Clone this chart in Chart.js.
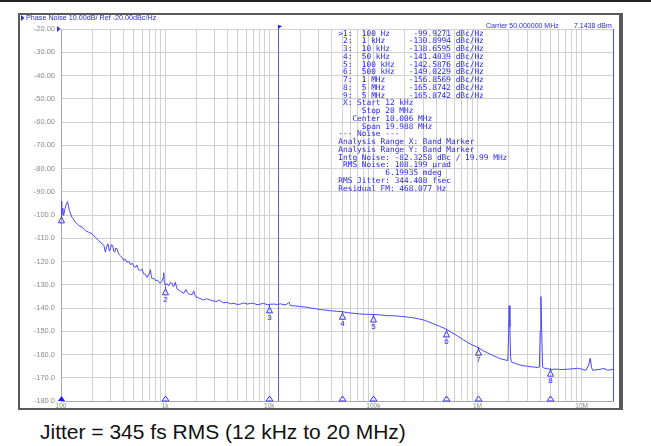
<!DOCTYPE html>
<html>
<head>
<meta charset="utf-8">
<script src="https://cdn.jsdelivr.net/npm/chart.js@4"></script>
<style>
  body { margin: 0; background: #fff; width: 651px; height: 446px; overflow: hidden; position: relative; font-family: "Liberation Sans", Arial, sans-serif; }
  #topline { position: absolute; left: 0; top: 0; width: 651px; height: 2px; background: #222; }
  #frame { position: absolute; left: 18px; top: 13px; width: 605px; height: 397px; border: 2px solid #5a5a5a; border-right-width: 4px; box-sizing: border-box; }
  #wrap { position: absolute; left: 0; top: 0; width: 651px; height: 412px; }
  #caption { position: absolute; left: 40px; top: 420px; font-size: 21px; color: #111; white-space: nowrap; line-height: 23px; }
</style>
</head>
<body>
<div id="topline"></div>
<div id="frame"></div>
<div id="wrap"><canvas id="myChart"></canvas></div>
<div id="caption">Jitter = 345 fs RMS (12 kHz to 20 MHz)</div>
<script>
// trace (offset frequency in Hz, dBc/Hz)
const freqHz = [
  100, 101, 102.2, 104, 106, 109, 112.5, 115.7, 120.2, 127.6, 137.3, 147.6, 159.2, 171.3, 184.2, 198.7,
  213.7, 229.9, 247.8, 257.9, 266.7, 274.5, 283.1, 291.3, 297.8, 304.5, 313.4, 320.4, 327.6, 336.5, 345.5,
  357.9, 371.6, 388.4, 399.8, 415.2, 431.1, 448.6, 463.7, 484.8, 501.2, 518, 535.6, 553.7, 578.8, 598.4,
  622.7, 646.6, 671.4, 691, 706.3, 722.3, 735, 749.9, 777, 806.8, 843.4, 871.8, 901.1, 931.5, 958.7, 969.4,
  980.2, 1006.7, 1040.6, 1082.9, 1124.5, 1167.6, 1196.5, 1228.6, 1250.6, 1304.4, 1403.2, 1509.5, 1584.9,
  1627.4, 1686.2, 1818.1, 1883.6, 1955.7, 2103.7, 2350.5, 2495.4, 2726.9, 2913.9, 3162.3, 3291, 3402, 3636,
  3947, 4246, 4566, 4958, 5297, 5661, 6143, 6610, 7110, 7632, 8249, 8812, 9568, 10292, 11071, 11940, 12847,
  13818, 14668, 15434, 16025, 17900, 19998, 22336, 24955, 27875, 31142, 34777, 38858, 44373, 50343, 56600,
  65100, 72240, 81218, 90120, 101345, 117550, 136300, 156700, 183000, 213700, 245700, 272700, 306600,
  340200, 382500, 434100, 495800, 566100, 642300, 714200, 801300, 901200, 1013400, 1124600, 1248000,
  1388000, 1557000, 1712000, 1871000, 1956000, 1991000, 2013000, 2045000, 2077000, 2114000, 2234000,
  2424000, 2609000, 2806000, 3012000, 3254000, 3518000, 3776000, 3928000, 3998000, 4061000, 4133000,
  4217000, 4369000, 4691000, 5068000, 5417000, 5878000, 6466000, 7335000, 8067000, 9152000, 10067000,
  11000000, 11700000, 12100000, 12430000, 12760000, 13730000, 15330000, 16390000, 17780000, 19120000, 20000000
];
const noiseDbc = [
  -96.5, -94.0, -99.9, -97.0, -100.2, -97.5, -95.2, -94.3, -98.0, -101.0, -103.0, -104.5, -105.2, -106.7, -107.4, -108.1,
  -109.6, -111.0, -112.4, -113.0, -116.0, -113.5, -112.4, -115.5, -114.6, -112.8, -113.1, -115.5, -116.0, -114.2, -114.6,
  -116.8, -117.5, -118.5, -119.6, -119.0, -120.3, -120.0, -121.3, -120.8, -122.2, -122.5, -121.5, -123.5, -123.9, -123.2,
  -125.3, -125.5, -126.8, -125.8, -125.0, -123.5, -126.0, -127.5, -127.2, -128.2, -128.0, -129.0, -129.4, -128.5, -127.0, -124.8,
  -128.5, -130.4, -129.5, -130.4, -129.0, -129.4, -130.8, -130.4, -128.9, -131.8, -132.8, -133.7, -132.0,
  -133.3, -134.0, -134.3, -132.6, -135.1, -135.7, -136.6, -136.0, -136.6, -137.0, -137.2, -136.5, -136.9, -137.8,
  -137.6, -138.2, -138.0, -138.5, -138.3, -137.8, -138.3, -138.0, -138.0, -138.6, -138.3, -138.0, -138.6, -138.4, -138.3, -138.5, -138.2,
  -138.6, -138.5, -137.5, -139.0, -139.1, -139.4, -139.6, -140.0, -140.3, -140.7, -140.9, -141.2, -141.4, -141.6, -142.0,
  -142.3, -142.5, -142.7, -142.7, -142.8, -143.0, -143.3, -143.3, -143.6, -143.9, -144.3, -144.7, -145.2,
  -146.0, -146.9, -147.9, -149.0, -150.6, -152.0, -153.4, -154.8, -156.0, -157.0, -158.3, -159.3,
  -160.3, -161.3, -162.0, -162.4, -162.6, -150.0, -139.0, -148.0, -161.0, -163.2, -163.6,
  -164.2, -164.6, -164.9, -165.0, -165.3, -165.4, -165.6, -165.4, -150.0, -135.1, -150.0,
  -165.5, -165.9, -166.0, -166.6, -166.3, -166.3, -166.5, -166.3, -166.2, -165.9, -166.3,
  -166.8, -164.5, -161.6, -165.5, -166.8, -166.6, -166.3, -166.0, -166.8, -166.5, -166.3
];

const markerNum = [1, 2, 3, 4, 5, 6, 7, 8, 9];
const markerHz = [100, 1000, 10000, 50000, 100000, 500000, 1000000, 5000000, 5000000];
const markerDbc = [-99.9271, -130.8994, -138.6595, -141.4039, -142.5876, -149.0229, -156.8569, -165.8742, -165.8742];

const bandStartHz = 12000;
const decadeLabels = { 100: '100', 1000: '1k', 10000: '10k', 100000: '100k', 1000000: '1M', 10000000: '10M' };

const tableLines = [
  '>1:  100 Hz     -99.9271 dBc/Hz',
  ' 2:  1 kHz     -130.8994 dBc/Hz',
  ' 3:  10 kHz    -138.6595 dBc/Hz',
  ' 4:  50 kHz    -141.4039 dBc/Hz',
  ' 5:  100 kHz   -142.5876 dBc/Hz',
  ' 6:  500 kHz   -149.0229 dBc/Hz',
  ' 7:  1 MHz     -156.8569 dBc/Hz',
  ' 8:  5 MHz     -165.8742 dBc/Hz',
  ' 9:  5 MHz     -165.8742 dBc/Hz',
  ' X: Start 12 kHz',
  '     Stop 20 MHz',
  '   Center 10.006 MHz',
  '     Span 19.988 MHz',
  '--- Noise ---',
  'Analysis Range X: Band Marker',
  'Analysis Range Y: Band Marker',
  'Intg Noise: -82.3258 dBc / 19.99 MHz',
  ' RMS Noise: 108.199 \u00b5rad',
  '          6.19935 mdeg',
  'RMS Jitter: 344.408 fsec',
  'Residual FM: 468.077 Hz'
];

const points = freqHz.map((f, i) => ({ x: f, y: noiseDbc[i] }));

const screenText = {
  id: 'screenText',
  afterDraw(chart) {
    const ctx = chart.ctx;
    const xs = chart.scales.x, ys = chart.scales.y, a = chart.chartArea;
    ctx.save();

    // band start line + flag
    const xb = Math.round(xs.getPixelForValue(bandStartHz)) + 0.5;
    ctx.strokeStyle = '#5a5aff';
    ctx.lineWidth = 1;
    ctx.beginPath(); ctx.moveTo(xb, a.top - 3); ctx.lineTo(xb, a.bottom); ctx.stroke();
    ctx.fillStyle = '#1a1aff';
    ctx.beginPath(); ctx.moveTo(xb - 0.5, a.top - 4); ctx.lineTo(xb + 3.5, a.top - 3); ctx.lineTo(xb - 0.5, a.top + 0); ctx.closePath(); ctx.fill();

    // right edge of the trace area is blue on the analyser
    ctx.strokeStyle = '#4a4aff';
    ctx.beginPath(); ctx.moveTo(a.right + 0.5, a.top); ctx.lineTo(a.right + 0.5, a.bottom); ctx.stroke();

    // header
    ctx.fillStyle = '#2a2adf';
    ctx.font = '7.2px "Liberation Sans", Arial, sans-serif';
    ctx.textBaseline = 'middle';
    ctx.textAlign = 'left';
    ctx.fillText('Phase Noise 10.00dB/ Ref -20.00dBc/Hz', 26, 18);
    ctx.beginPath(); ctx.moveTo(21, 15); ctx.lineTo(24.5, 18); ctx.lineTo(21, 21); ctx.closePath(); ctx.fill();
    ctx.font = '7px "Liberation Sans", Arial, sans-serif';
    ctx.fillText('Carrier 50.000000 MHz', 486, 26);
    ctx.fillText('7.1438 dBm', 574, 26);
    // reference level arrow next to -20.00
    const yr = ys.getPixelForValue(-20);
    ctx.beginPath(); ctx.moveTo(57, yr - 3); ctx.lineTo(60.5, yr); ctx.lineTo(57, yr + 3); ctx.closePath(); ctx.fill();

    // marker table
    ctx.fillStyle = '#2828ee';
    ctx.font = '7.8px "DejaVu Sans Mono", monospace';
    tableLines.forEach((t, i) => ctx.fillText(t, 338.3, 33.5 + i * 7.75));

    // trace markers
    ctx.strokeStyle = '#3434f0';
    ctx.lineWidth = 1;
    ctx.font = '8px "Liberation Sans", Arial, sans-serif';
    ctx.textAlign = 'center';
    markerNum.forEach((n, i) => {
      if (n === 9) return;
      const mx = Math.round(xs.getPixelForValue(markerHz[i])) + 0.5;
      const my = ys.getPixelForValue(markerDbc[i]);
      ctx.beginPath();
      ctx.moveTo(mx, my); ctx.lineTo(mx, my + 2);
      ctx.moveTo(mx, my + 2); ctx.lineTo(mx + 3, my + 8); ctx.lineTo(mx - 3, my + 8); ctx.closePath();
      ctx.stroke();
      if (n > 1) ctx.fillText(String(n), mx, my + 13);
      // marker flag on the bottom axis
      ctx.beginPath();
      ctx.moveTo(mx, a.bottom - 5); ctx.lineTo(mx + 3.5, a.bottom); ctx.lineTo(mx - 3.5, a.bottom); ctx.closePath();
      if (n === 1) { ctx.fillStyle = '#1a1aff'; ctx.fill(); ctx.fillStyle = '#2828ee'; }
      else ctx.stroke();
    });
    ctx.restore();
  }
};

const xTicks = [];
[100, 1e3, 1e4, 1e5, 1e6, 1e7].forEach(d => {
  for (let m = 1; m <= 9; m++) if (d * m <= 2e7) xTicks.push(d * m);
});

const myChart = new Chart('myChart', {
  type: 'scatter',
  data: {
    datasets: [{
      label: 'Phase Noise',
      data: points,
      showLine: true,
      borderColor: '#4646ff',
      borderWidth: 1,
      pointRadius: 0,
      tension: 0
    }]
  },
  options: {
    responsive: true,
    maintainAspectRatio: false,
    animation: false,
    layout: { padding: { left: 0, top: 29, right: 38, bottom: 0 } },
    plugins: { legend: { display: false }, tooltip: { enabled: false } },
    scales: {
      x: {
        type: 'logarithmic',
        min: 100,
        max: 20000000,
        afterBuildTicks: axis => { axis.ticks = xTicks.map(v => ({ value: v })); },
        afterFit: axis => { axis.height = 11; },
        grid: { color: '#d0d0d0', drawTicks: false },
        border: { color: '#a8a8a8' },
        ticks: {
          autoSkip: false,
          maxRotation: 0,
          padding: 1,
          color: '#8a8a8a',
          font: { size: 6.5, family: '"Liberation Sans", Arial, sans-serif' },
          callback: v => decadeLabels[v] || ''
        }
      },
      y: {
        min: -180,
        max: -20,
        afterFit: axis => { axis.width = 61; },
        grid: { color: '#d0d0d0', drawTicks: false },
        border: { color: '#a8a8a8' },
        ticks: {
          stepSize: 10,
          padding: 6,
          color: '#8a8a8a',
          font: { size: 7.5, family: '"Liberation Sans", Arial, sans-serif' },
          callback: v => v > -100 ? v.toFixed(2) : v.toFixed(1)
        }
      }
    }
  },
  plugins: [screenText]
});
</script>
</body>
</html>
